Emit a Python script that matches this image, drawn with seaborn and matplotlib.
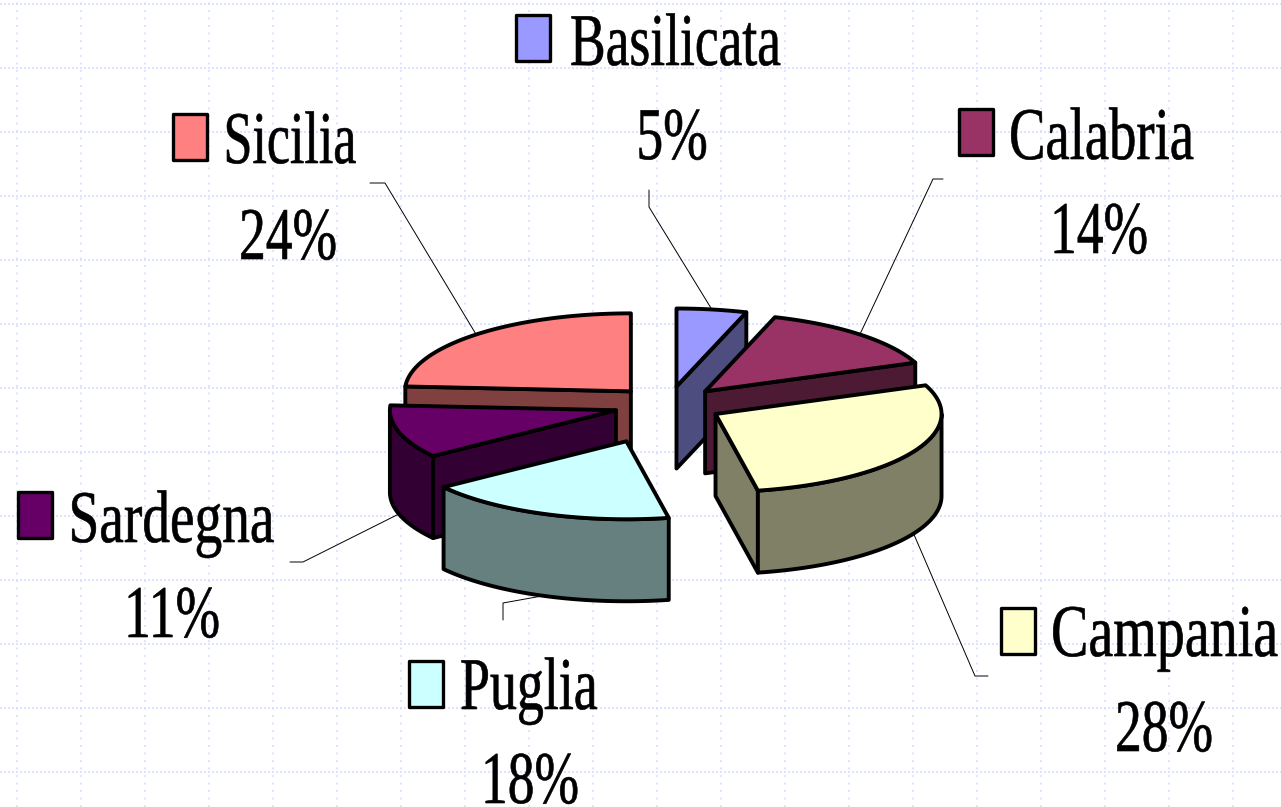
import numpy as np
import matplotlib
matplotlib.use("Agg")
import matplotlib.pyplot as plt
import matplotlib.patheffects as pe
from matplotlib.font_manager import FontProperties
from matplotlib.patches import Rectangle
from matplotlib.text import Text
from matplotlib.textpath import TextPath
from matplotlib.transforms import Affine2D, Bbox
import seaborn as sns

# ---- data -------------------------------------------------------------
regions = ["Basilicata", "Calabria", "Campania", "Puglia", "Sardegna", "Sicilia"]
shares = [5, 14, 28, 18, 11, 24]
top_colors = ["#9999FF", "#993366", "#FFFFCC", "#CCFFFF", "#660066", "#FF8080"]
explode = [0.24, 0.24, 0.24, 0.50, 0.24, 0.24]

# ---- layout (pixel canvas) ---------------------------------------------
W, H = 1281, 807
CX, CY, RX, RY, DEPTH = 668, 405, 226, 78, 82
FONT_PT = 53.5
swatch_xy = [(516, 15), (959, 109), (1001, 607.5), (409, 661), (18, 492), (172.5, 113.5)]
name_xy = [(570, 65), (1009, 159), (1051, 656), (460, 709), (68.5, 542), (223.5, 163)]
name_squeeze = [0.72, 0.735, 0.754, 0.725, 0.745, 0.70]
pct_xy = [(672, 159), (1099, 253), (1164, 751), (530, 803), (172, 637), (288, 259)]
pct_squeeze = 0.72
elbows = [
    [(649, 207), (649, 190)],
    [(933, 179), (943, 179)],
    [(975, 676), (988, 676)],
    [(503, 603), (503, 620)],
    [(303, 562), (290, 562)],
    [(385, 183), (370, 183)],
]

sns.set_theme(style="white", rc={"lines.scale_dashes": False})
plt.rcParams["font.family"] = ["Liberation Serif", "DejaVu Serif"]
palette = sns.color_palette(top_colors)

fig = plt.figure(figsize=(W / 100, H / 100), dpi=100, facecolor="white")
ax = fig.add_axes([0, 0, 1, 1])
ax.set_xlim(0, W)
ax.set_ylim(H, 0)
ax.set_xticks(np.arange(17, W, 64))
ax.set_yticks(np.arange(4, H, 64))
ax.tick_params(length=0, labelbottom=False, labelleft=False)
ax.set_axisbelow(True)
GRID = "#D2DCFF"
ax.xaxis.grid(True, color=GRID, lw=1.1, linestyle=(0, (1.44, 3.96)))
ax.yaxis.grid(True, color=GRID, lw=1.1, linestyle=(0, (1.44, 1.44)))
sns.despine(ax=ax, left=True, bottom=True)


class Squeeze(pe.AbstractPathEffect):
    """Narrow the glyphs around the text anchor (the original is a condensed serif)."""

    def __init__(self, x_px, factor):
        super().__init__()
        self.x_px = x_px
        self.factor = factor

    def draw_path(self, renderer, gc, tpath, affine, rgbFace=None):
        squeeze = Affine2D().translate(-self.x_px, 0).scale(self.factor, 1).translate(self.x_px, 0)
        gc0 = renderer.new_gc()
        gc0.copy_properties(gc)
        gc0.set_linewidth(0.45)
        gc0.set_foreground("black")
        renderer.draw_path(gc0, tpath, affine + squeeze, rgbFace)
        gc0.restore()


class CondensedText(Text):
    """Real text whose reported extent follows the narrowed glyphs."""

    factor = 1.0

    def get_window_extent(self, renderer=None, dpi=None):
        box = super().get_window_extent(renderer, dpi)
        anchor = self.get_transform().transform(self.get_position())
        k = self.factor
        ink = TextPath((0, 0), self.get_text(), prop=self.get_fontproperties()).get_extents()
        scale = self.get_figure().dpi / 72
        return Bbox([[anchor[0] + (box.x0 - anchor[0]) * k, anchor[1] + ink.y0 * scale],
                     [anchor[0] + (box.x1 - anchor[0]) * k, anchor[1] + ink.y1 * scale]])


def label(x, y, s, ha, factor):
    t = CondensedText(x, y, s, ha=ha, va="baseline", color="black", zorder=50,
                      fontproperties=FontProperties(family="Liberation Serif", size=FONT_PT))
    t.factor = factor
    t.set_path_effects([Squeeze(x, factor)])
    ax.add_artist(t)


def shade(col):
    return tuple(c * 0.5 for c in col)


def rim(ox, oy, deg):
    t = np.radians(deg)
    return np.column_stack([ox + RX * np.sin(t), oy - RY * np.cos(t)])


def face(pts, color, z):
    ax.fill(pts[:, 0], pts[:, 1], facecolor=color, edgecolor="black", lw=2.8,
            joinstyle="round", zorder=z)


fractions = np.array(shares) / np.sum(shares)
edges = np.concatenate([[0], np.cumsum(fractions)]) * 360
mids = (edges[:-1] + edges[1:]) / 2
tip_x = CX + np.array(explode) * RX * np.sin(np.radians(mids))
tip_y = CY - np.array(explode) * RY * np.cos(np.radians(mids))
order = np.argsort(tip_y)
down = np.array([0, DEPTH])

for rank, i in enumerate(order):
    a, b = edges[i], edges[i + 1]
    tip = np.array([tip_x[i], tip_y[i]])
    z = 5 + rank * 0.1
    dark = shade(palette[i])
    arc = rim(tip[0], tip[1], np.linspace(a, b, 80))
    # radial walls facing the viewer
    if np.sin(np.radians(a)) < -1e-6:
        face(np.array([tip, arc[0], arc[0] + down, tip + down]), dark, z)
    if np.sin(np.radians(b)) > 1e-6:
        face(np.array([tip, arc[-1], arc[-1] + down, tip + down]), dark, z)
    # outer wall, front half only
    lo, hi = max(a, 90), min(b, 270)
    if hi > lo:
        wall = rim(tip[0], tip[1], np.linspace(lo, hi, 80))
        face(np.vstack([wall, wall[::-1] + down]), dark, z + 0.01)
    # top
    face(np.vstack([tip, arc]), palette[i], z + 0.02)

# leader lines, labels, swatches
for i, name in enumerate(regions):
    anchor = rim(tip_x[i], tip_y[i], np.array([mids[i]]))[0]
    if 90 < mids[i] < 270:
        anchor = anchor + down
    pts = np.array([anchor] + elbows[i])
    ax.plot(pts[:, 0], pts[:, 1], color="black", lw=0.7, zorder=4)
    sx, sy = swatch_xy[i]
    ax.add_patch(Rectangle((sx, sy), 34, 46, facecolor=palette[i], edgecolor="black",
                           lw=2.4, joinstyle="round", zorder=40))
    label(name_xy[i][0], name_xy[i][1], name, "left", name_squeeze[i])
    label(pct_xy[i][0], pct_xy[i][1], f"{shares[i]}%", "center", pct_squeeze)

fig.savefig("out.png", dpi=100, facecolor="white")
